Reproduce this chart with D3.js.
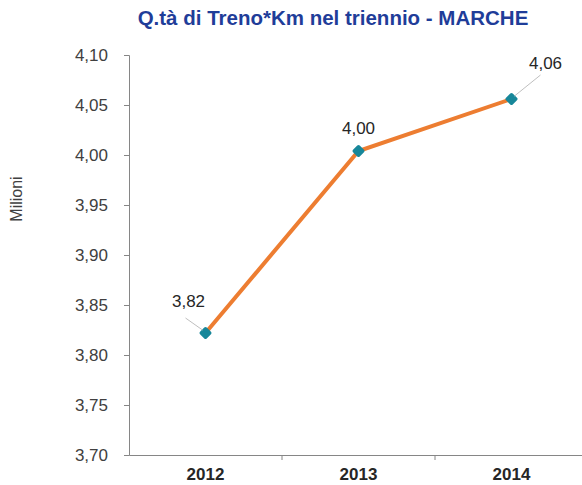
<!DOCTYPE html>
<html>
<head>
<meta charset="utf-8">
<script src="https://cdn.jsdelivr.net/npm/d3@7"></script>
<style>
  body { margin: 0; background: #fff; }
  text { font-family: "Liberation Sans", Arial, sans-serif; }
</style>
</head>
<body>
<div id="chart"></div>
<script>
// Data
const years = ["2012", "2013", "2014"];
const values = [3.822, 4.004, 4.056];
const labels = ["3,82", "4,00", "4,06"];
const yTicks = [3.70, 3.75, 3.80, 3.85, 3.90, 3.95, 4.00, 4.05, 4.10];

const W = 582, H = 485;
const margin = { top: 55, right: -6, bottom: 30, left: 129 };

const svg = d3.select("#chart").append("svg")
    .attr("width", W)
    .attr("height", H);

// Scales
const x = d3.scaleBand().domain(years).range([margin.left, W - margin.right]);
const y = d3.scaleLinear().domain([3.70, 4.10]).range([H - margin.bottom, margin.top]);

// Title
svg.append("text")
    .attr("x", 333).attr("y", 25)
    .attr("text-anchor", "middle")
    .style("font-size", "20.5px").style("font-weight", "bold")
    .style("fill", "#1F3D99")
    .text("Q.tà di Treno*Km nel triennio - MARCHE");

// Y axis
const fmt = d => d.toFixed(2).replace(".", ",");
const yAxis = svg.append("g")
    .attr("transform", `translate(${margin.left},0)`)
    .call(d3.axisLeft(y).tickValues(yTicks).tickFormat(fmt).tickSize(5).tickPadding(16));
yAxis.select(".domain").attr("stroke", "#868686");
yAxis.selectAll(".tick line").attr("stroke", "#868686");
yAxis.selectAll(".tick text").style("font-size", "17px").attr("fill", "#404040");

// X axis
const xAxis = svg.append("g")
    .attr("transform", `translate(0,${H - margin.bottom})`)
    .call(d3.axisBottom(x).tickSize(0).tickPadding(13));
xAxis.select(".domain").attr("stroke", "#868686");
xAxis.selectAll(".tick text").style("font-size", "17px").style("font-weight", "bold").attr("fill", "#262626");
// category separators
xAxis.selectAll(".sep")
    .data(years.slice(1))
    .enter().append("line")
    .attr("x1", d => x(d)).attr("x2", d => x(d))
    .attr("y1", 0).attr("y2", 5)
    .attr("stroke", "#868686");

// Y title
svg.append("text")
    .attr("transform", "translate(22,199) rotate(-90)")
    .attr("text-anchor", "middle")
    .style("font-size", "16px").attr("fill", "#404040")
    .text("Milioni");

const cx = d => x(d) + x.bandwidth() / 2;

// Line
svg.append("path")
    .datum(values)
    .attr("fill", "none")
    .attr("stroke", "#ED7D31")
    .attr("stroke-width", 4)
    .attr("d", d3.line().x((d, i) => cx(years[i])).y(d => y(d)));

// Markers
svg.selectAll(".marker")
    .data(values)
    .enter().append("path")
    .attr("class", "marker")
    .attr("transform", (d, i) => `translate(${cx(years[i])},${y(d)}) rotate(45)`)
    .attr("d", d3.symbol(d3.symbolSquare, 36)())
    .attr("fill", "#17879A")
    .attr("stroke", "#17879A")
    .attr("stroke-linejoin", "round")
    .attr("stroke-width", 3.5);

// Data labels (offsets relative to the point)
const labelPos = [
    { dx: -17, dy: -26, lx1: -20, ly1: -15, lx2: -3, ly2: -3 },
    { dx: 0, dy: -17, lx1: 0, ly1: 0, lx2: 0, ly2: 0 },
    { dx: 34, dy: -30, lx1: 29, ly1: -24, lx2: 3, ly2: -3 }
];
labelPos.forEach((p, i) => {
    if (p.lx1 === 0) return;
    svg.append("line")
        .attr("x1", cx(years[i]) + p.lx1).attr("y1", y(values[i]) + p.ly1)
        .attr("x2", cx(years[i]) + p.lx2).attr("y2", y(values[i]) + p.ly2)
        .attr("stroke", "#BFBFBF").attr("stroke-width", 1);
});

svg.selectAll(".dlabel")
    .data(values)
    .enter().append("text")
    .attr("x", (d, i) => cx(years[i]) + labelPos[i].dx)
    .attr("y", (d, i) => y(d) + labelPos[i].dy)
    .attr("text-anchor", "middle")
    .style("font-size", "17px").attr("fill", "#262626")
    .text((d, i) => labels[i]);
</script>
</body>
</html>
